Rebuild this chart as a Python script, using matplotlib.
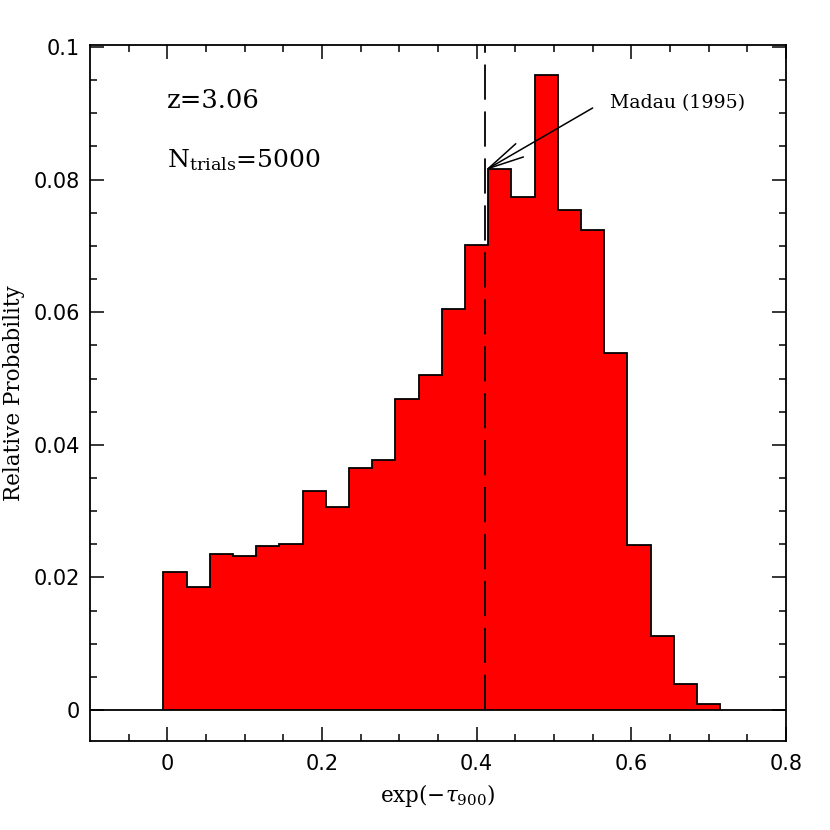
import matplotlib
matplotlib.use("Agg")
import matplotlib.pyplot as plt
from matplotlib.patches import ArrowStyle
import numpy as np

# histogram: bins of width 0.03 starting at -0.005
bin_edges = [-0.005, 0.025, 0.055, 0.085, 0.115, 0.145, 0.175, 0.205, 0.235,
             0.265, 0.295, 0.325, 0.355, 0.385, 0.415, 0.445, 0.475, 0.505,
             0.535, 0.565, 0.595, 0.625, 0.655, 0.685, 0.715]
probability = [0.0208, 0.0186, 0.0236, 0.0233, 0.0248, 0.0250, 0.0331, 0.0306,
               0.0365, 0.0377, 0.0469, 0.0505, 0.0605, 0.0701, 0.0816, 0.0774,
               0.0957, 0.0754, 0.0724, 0.0539, 0.0249, 0.0111, 0.0039, 0.0009]

madau_value = 0.411
madau_height = 0.0814
x_ticks = [0, 0.2, 0.4, 0.6, 0.8]
x_ticklabels = ["0", "0.2", "0.4", "0.6", "0.8"]
y_ticks = [0, 0.02, 0.04, 0.06, 0.08, 0.1]
y_ticklabels = ["0", "0.02", "0.04", "0.06", "0.08", "0.1"]

plt.rcParams['font.family'] = ['DejaVu Serif']
plt.rcParams['mathtext.fontset'] = 'dejavuserif'

fig = plt.figure(figsize=(8.3, 8.3), dpi=100)
ax = fig.add_axes([0.1084, 0.1072, 0.8386, 0.8386])

# red histogram and black outline
ax.stairs(probability, bin_edges, baseline=0, fill=True, color='#ff0000', lw=0)
ax.stairs(probability, bin_edges, baseline=0, fill=False, color='black', lw=1.3)
ax.axhline(0, color='black', lw=1.3)

# Madau (1995) value
ax.plot([madau_value, madau_value], [0, 0.1003], color='black', lw=1.3,
        linestyle=(0, (19.5, 6.5)))

ax.annotate('', xy=(madau_value, madau_height), xytext=(0.55, 0.0908),
            arrowprops=dict(arrowstyle=ArrowStyle('->', head_length=2.6, head_width=0.55),
                            color='black', lw=1.1, mutation_scale=10,
                            shrinkA=0, shrinkB=0))
ax.text(0.572, 0.0915, 'Madau (1995)', fontsize=13.6, va='center', ha='left')

ax.text(0.0, 0.0920, 'z=3.06', fontsize=18.5, va='center', ha='left')
ax.text(0.0, 0.0830, r'N$_{\rm trials}$=5000', fontsize=18, va='center', ha='left')

ax.set_xlim(-0.1, 0.8)
ax.set_ylim(-0.00467, 0.1003)
ax.set_xticks(x_ticks)
ax.set_xticklabels(x_ticklabels, family='DejaVu Sans')
ax.set_yticks(y_ticks)
ax.set_yticklabels(y_ticklabels, family='DejaVu Sans')
ax.set_xticks(np.arange(-0.05, 0.8, 0.05), minor=True)
ax.set_yticks(np.arange(0, 0.1, 0.005), minor=True)

ax.tick_params(which='both', direction='in', top=True, right=True, width=1.1,
               labelsize=15)
ax.tick_params(which='major', length=10, pad=9)
ax.tick_params(which='minor', length=5)
ax.tick_params(axis='y', which='major', pad=7)
for s in ax.spines.values():
    s.set_linewidth(1.3)

ax.set_xlabel(r'exp($-\tau_{900}$)', fontsize=15.5, labelpad=6)
ax.set_ylabel('Relative Probability', fontsize=15.5, labelpad=6)

fig.savefig('out.png', dpi=100)
